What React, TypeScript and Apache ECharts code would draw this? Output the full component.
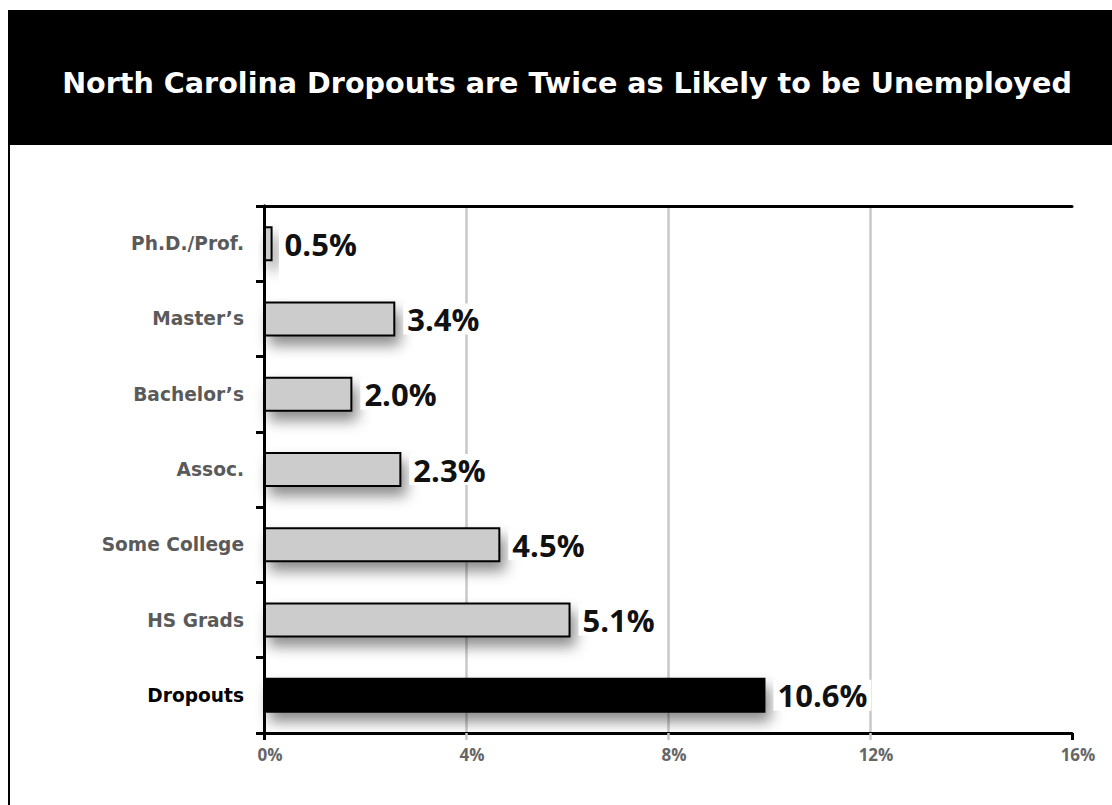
import React, { useEffect, useRef } from "react";
import * as echarts from "echarts";

const titleText = "North Carolina Dropouts are Twice as Likely to be Unemployed";
const categories = ["Ph.D./Prof.", "Master\u2019s", "Bachelor\u2019s", "Assoc.", "Some College", "HS Grads", "Dropouts"];
// bar lengths as drawn in the picture (percent)
const barValues = [0.17, 2.6, 1.75, 2.72, 4.68, 6.07, 9.93];
// value labels as printed in the picture
const valueLabels = ["0.5%", "3.4%", "2.0%", "2.3%", "4.5%", "5.1%", "10.6%"];
const highlightIndex = 6;
const xTicks = [0, 4, 8, 12, 16];

const FONT = "'Open Sans', 'Noto Sans', sans-serif";
const WIDE = "'DejaVu Sans', 'Open Sans', sans-serif";

export default function App() {
  const ref = useRef<HTMLDivElement>(null);
  useEffect(() => {
    document.body.style.margin = "0";
    const chart = echarts.init(ref.current!, undefined, { renderer: "svg" });
    const data = barValues.map((v, i) => ({
      value: v,
      itemStyle: {
        color: i === highlightIndex ? "#000000" : "#cccccc",
      },
    }));
    chart.setOption({
      animation: false,
      backgroundColor: "#ffffff",
      graphic: [
        { type: "rect", shape: { x: 8, y: 10, width: 1110, height: 135 }, style: { fill: "#000" }, z: 0 },
        { type: "line", shape: { x1: 9, y1: 145, x2: 9, y2: 810 }, style: { stroke: "#000", lineWidth: 2 } },
        {
          type: "text",
          x: 567,
          y: 83,
          z: 10,
          style: {
            text: titleText,
            fill: "#ffffff",
            font: `bold 28.6px ${WIDE}`,
            textAlign: "center",
            textVerticalAlign: "middle",
          },
        },
      ],
      grid: { left: 264, right: 40, top: 206, bottom: 72, containLabel: false },
      xAxis: [
        {
          type: "value",
          min: xTicks[0],
          max: xTicks[xTicks.length - 1],
          interval: 4,
          position: "bottom",
          axisLine: { show: true, lineStyle: { color: "#000", width: 3 } },
          axisTick: { show: true, length: 7, lineStyle: { color: "#c8c8c8", width: 2.5 } },
          splitLine: { show: true, showMinLine: false, showMaxLine: false, lineStyle: { color: "#c8c8c8", width: 2.5 } },
          axisLabel: {
            formatter: (v: number) => `${v}%`,
            color: "#666",
            fontFamily: FONT,
            fontWeight: "bold",
            fontSize: 17,
            margin: 13,
            padding: [0, 0, 0, 12],
          },
        },
        {
          type: "value",
          min: 0,
          max: 16,
          interval: 16,
          position: "bottom",
          axisLine: { show: false },
          axisTick: { show: true, length: 7, lineStyle: { color: "#000", width: 3 } },
          splitLine: { show: false },
          axisLabel: { show: false },
        },
        {
          type: "value",
          min: 0,
          max: 16,
          position: "top",
          axisLine: { show: true, lineStyle: { color: "#000", width: 3 } },
          axisTick: { show: false },
          splitLine: { show: false },
          axisLabel: { show: false },
        },
      ],
      yAxis: [
        {
          type: "category",
          data: categories,
          inverse: true,
          axisLine: { show: true, lineStyle: { color: "#000", width: 3 } },
          axisTick: { show: true, length: 8, lineStyle: { color: "#000", width: 3 } },
          axisLabel: {
            margin: 20,
            fontFamily: WIDE,
            fontWeight: "bold",
            fontSize: 18.6,
            color: (v: string) => (v === categories[highlightIndex] ? "#000" : "#5a5a5a"),
          },
        },
        {
          type: "category",
          data: categories,
          inverse: true,
          position: "right",
          axisLine: { show: true, lineStyle: { color: "#000", width: 3 } },
          axisTick: { show: false },
          axisLabel: { show: false },
        },
      ],
      series: [
        {
          type: "bar",
          data,
          barWidth: 35,
          xAxisIndex: 0,
          yAxisIndex: 0,
          itemStyle: {
            borderColor: "#000",
            borderWidth: 2,
            shadowBlur: 14,
            shadowColor: "rgba(0,0,0,0.45)",
            shadowOffsetX: 5,
            shadowOffsetY: 9,
          },
          label: {
            show: true,
            position: "right",
            distance: 8,
            formatter: (p: any) => valueLabels[p.dataIndex],
            fontFamily: FONT,
            fontWeight: "bold",
            fontSize: 31,
            color: "#111",
            backgroundColor: "#fff",
            padding: [0, 4, 0, 4],
          },
          z: 5,
        },
      ],
    });
    return () => chart.dispose();
  }, []);
  return <div ref={ref} style={{ width: 1112, height: 805 }} />;
}
